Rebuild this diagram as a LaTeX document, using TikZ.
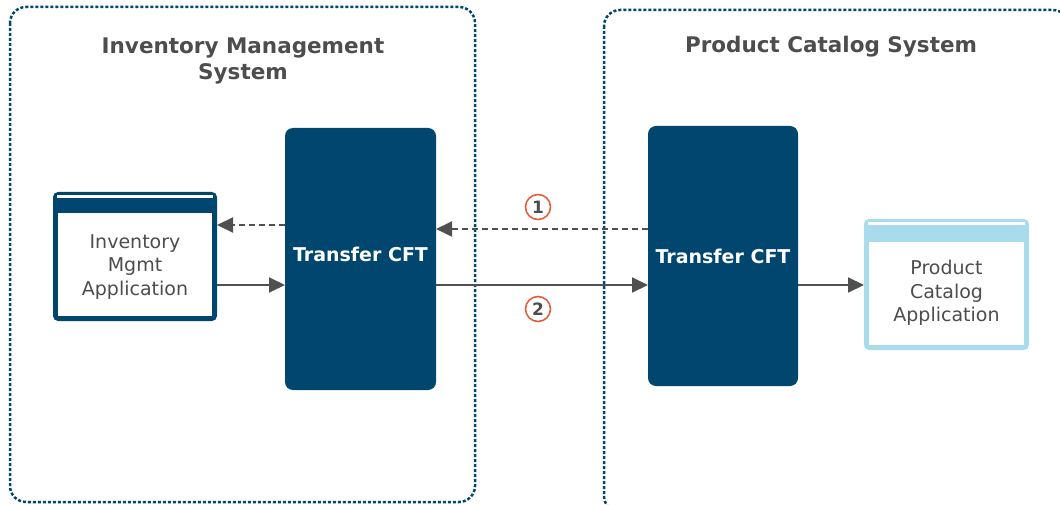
\documentclass[tikz,border=0pt]{standalone}
\usepackage{fontspec}
\setmainfont{DejaVu Sans}
\usetikzlibrary{arrows.meta}
\definecolor{navy}{HTML}{00466E}
\definecolor{lblue}{HTML}{A8DCEC}
\definecolor{arrowgray}{HTML}{505050}
\definecolor{txtgray}{HTML}{4D4D4D}
\definecolor{numred}{HTML}{E0603E}
\tikzset{
  sysbox/.style={draw=navy, line width=2.5pt, dash pattern=on 3pt off 2pt, rounded corners=16pt},
  cftbox/.style={fill=navy, rounded corners=8pt, draw=none},
  cfttext/.style={text=white, font=\bfseries\fontsize{19}{22}\selectfont},
  systitle/.style={text=txtgray, font=\bfseries\fontsize{21.5}{26}\selectfont, align=center},
  apptext/.style={text=txtgray, font=\fontsize{19}{23.5}\selectfont, align=center},
  flow/.style={draw=arrowgray, line width=2pt, -{Triangle[length=16pt,width=15pt]}},
  dflow/.style={flow, dash pattern=on 6pt off 4pt},
  num/.style={circle, draw=numred, line width=1.6pt, minimum size=25pt, inner sep=0pt, text=txtgray, font=\bfseries\fontsize{17}{17}\selectfont},
}
\begin{document}
\begin{tikzpicture}[x=1pt,y=-1pt]
\useasboundingbox (0,0) rectangle (1060,505);
% system boxes
\draw[sysbox] (10,7) rectangle (475,502);
\draw[sysbox] (604,10) rectangle (1069,512);
\node[systitle] (t1) at (243,61) {Inventory Management\\System};
\node[systitle] (t2) at (831,47) {Product Catalog System};
% transfer CFT
\path[cftbox] (285,128) rectangle (436,390);
\node[cfttext] (cft1) at (360.5,254) {Transfer CFT};
\path[cftbox] (648,126) rectangle (798,386);
\node[cfttext] (cft2) at (723,256) {Transfer CFT};
% app 1
\fill[navy, rounded corners=5pt] (53,192) rectangle (217,321);
\fill[white] (57,195) rectangle (213,198);
\fill[white] (58,213) rectangle (212,316);
\node[apptext] (app1) at (135,267) {Inventory\\Mgmt\\Application};
% app 2
\fill[lblue, rounded corners=5pt] (864,219) rectangle (1029,350);
\fill[white] (868,222) rectangle (1025,225);
\fill[white] (869,242) rectangle (1024,345);
\node[apptext] (app2) at (946.5,293) {Product\\Catalog\\Application};
% anchors
\coordinate (a1r1) at (217,225);
\coordinate (a1r2) at (217,285);
\coordinate (c1l1) at (285,225);
\coordinate (c1l2) at (285,285);
\coordinate (c1r1) at (436,229);
\coordinate (c1r2) at (436,285);
\coordinate (c2l1) at (648,229);
\coordinate (c2l2) at (648,285);
\coordinate (c2r) at (798,285);
\coordinate (a2l) at (864,285);
% arrows
\draw[dflow] (c1l1) -- (a1r1);
\draw[flow] (a1r2) -- (c1l2);
\draw[dflow] (c2l1) -- (c1r1);
\draw[flow] (c1r2) -- (c2l2);
\draw[flow] (c2r) -- (a2l);
% numbers
\node[num] (n1) at (538,207) {1};
\node[num] (n2) at (538,309) {2};
\end{tikzpicture}
\end{document}
